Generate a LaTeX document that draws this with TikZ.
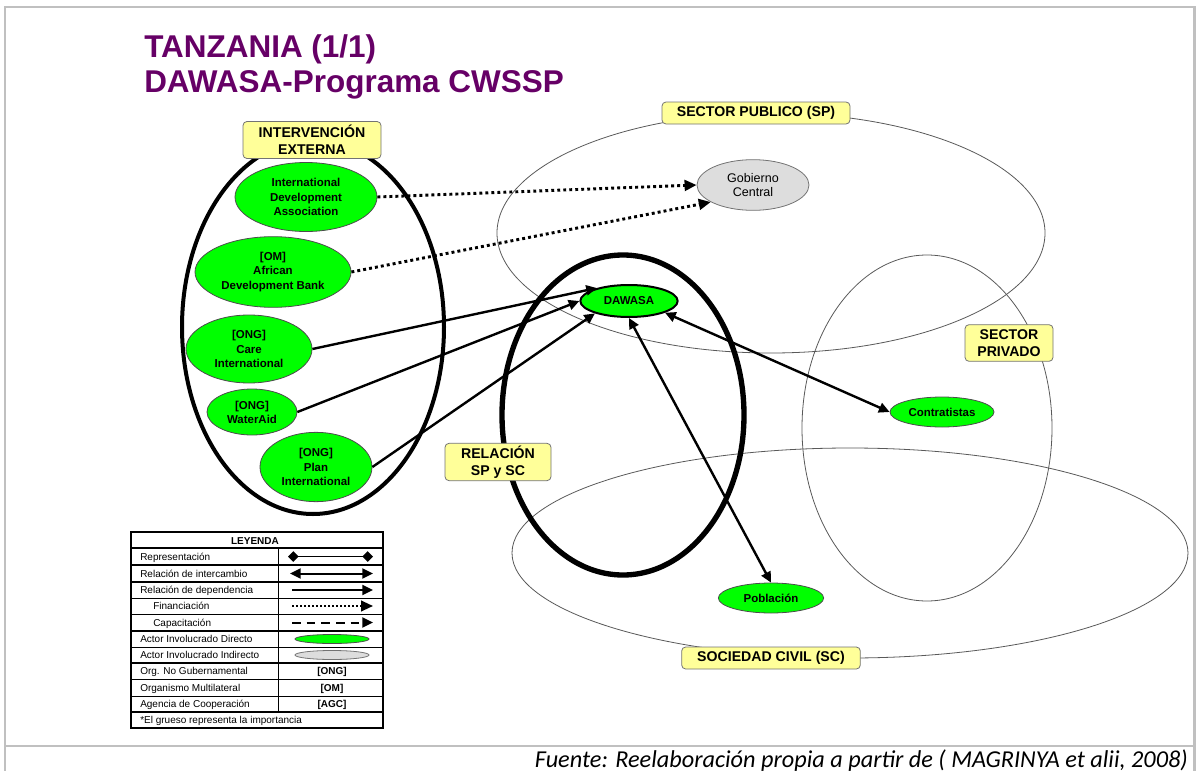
\documentclass[tikz,border=0pt]{standalone}
\usepackage{fontspec}
\setmainfont{Liberation Sans}
\newfontfamily\fuentefont{Carlito}
\usetikzlibrary{shapes.geometric,arrows.meta}
\definecolor{titulomorado}{HTML}{660066}
\definecolor{verdeactor}{HTML}{00FF00}
\definecolor{grisactor}{HTML}{DDDDDD}
\definecolor{amarillo}{HTML}{FFFF99}
\definecolor{grismarco}{HTML}{C0C0C0}

\begin{document}
\begin{tikzpicture}[x=0.75pt,y=-0.75pt,
  actor/.style={ellipse,draw=black!70,line width=0.6pt,fill=verdeactor,inner sep=0pt,align=center,font=\fontsize{8.6}{10.6}\selectfont\bfseries},
  indirecto/.style={actor,fill=grisactor,draw=black!55,font=\fontsize{9.4}{10.8}\selectfont},
  sector/.style={draw=black!65,line width=0.6pt},
  grupo/.style={draw=black,line width=3pt},
  rotulo/.style={rectangle,rounded corners=3pt,draw=black!55,fill=amarillo,line width=0.6pt,align=center,inner sep=0pt,font=\fontsize{10.6}{12.5}\selectfont\bfseries},
  depen/.style={-{Triangle[length=8pt,width=7.5pt]},line width=1.8pt},
  inter/.style={{Triangle[length=8pt,width=7.5pt]}-{Triangle[length=8pt,width=7.5pt]},line width=1.8pt},
  finan/.style={-{Triangle[length=9pt,width=8pt]},line width=2.2pt,dash pattern=on 2.2pt off 2.3pt},
  leyenda/.style={anchor=base west,inner sep=0pt,font=\fontsize{7.5}{9}\selectfont},
  clave/.style={anchor=base,inner sep=0pt,font=\fontsize{7.5}{9}\selectfont\bfseries},
]
\useasboundingbox (0,0) rectangle (1197,771);
\draw[grismarco,line width=2.2pt] (5,771) -- (5,7) -- (1194.5,7) -- (1194.5,771);
\draw[grismarco,line width=2.2pt] (5,746) -- (1194.5,746);

\node[anchor=base west,inner sep=0pt,text=titulomorado,font=\fontsize{23.6}{28}\selectfont\bfseries] (titulo1) at (144,57) {TANZANIA (1/1)};
\node[anchor=base west,inner sep=0pt,text=titulomorado,font=\fontsize{23.6}{28}\selectfont\bfseries] (titulo2) at (144,92) {DAWASA-Programa CWSSP};

\draw[sector] (771,233) ellipse [x radius=274,y radius=120];
\draw[sector] (850,553) ellipse [x radius=338,y radius=105];
\draw[sector] (927,428) ellipse [x radius=125,y radius=173];
\draw[grupo] (313,327) ellipse [x radius=131,y radius=187];
\draw[grupo,line width=4pt] (623,415) ellipse [x radius=121,y radius=160];

\node[rotulo,minimum width=141pt,minimum height=16.5pt] (lsp) at (756,113) {SECTOR PUBLICO (SP)};
\node[rotulo,minimum width=103.5pt,minimum height=27.8pt] (lie) at (312,140) {INTERVENCIÓN\\EXTERNA};
\node[rotulo,minimum width=66pt,minimum height=27.5pt] (lpriv) at (1009,343) {SECTOR\\PRIVADO};
\node[rotulo,minimum width=79.5pt,minimum height=28pt] (lrel) at (498,462) {RELACIÓN\\SP y SC};
\node[rotulo,minimum width=134pt,minimum height=16.5pt] (lsc) at (771,658) {SOCIEDAD CIVIL (SC)};

\node[actor,minimum width=106.5pt,minimum height=51.75pt] (ida) at (306,197) {International\\Development\\Association};
\node[actor,minimum width=117pt,minimum height=53pt] (afdb) at (273,272) {[OM]\\African\\Development Bank};
\node[actor,minimum width=94.5pt,minimum height=51pt] (care) at (249,349) {[ONG]\\Care\\International};
\node[actor,minimum width=67.5pt,minimum height=34.5pt] (wateraid) at (252,412) {[ONG]\\WaterAid};
\node[actor,minimum width=84pt,minimum height=52pt] (plan) at (316,467) {[ONG]\\Plan\\International};
\node[actor,draw=black,line width=1.5pt,minimum width=73pt,minimum height=24pt] (dawasa) at (629,301) {DAWASA};
\node[indirecto,minimum width=84pt,minimum height=38pt] (gobierno) at (753,185) {Gobierno\\Central};
\node[actor,minimum width=78pt,minimum height=22.5pt] (contratistas) at (942,412) {Contratistas};
\node[actor,minimum width=79pt,minimum height=22.5pt] (poblacion) at (771,598) {Población};

\draw[finan] (ida.east) -- (gobierno.west);
\draw[finan] (afdb.east) -- (gobierno.202);
\draw[depen] (care.east) -- (dawasa.158);
\draw[depen] (wateraid.east) -- (dawasa.west);
\draw[depen] (plan.east) -- (dawasa.200);
\draw[inter] (dawasa.342) -- (contratistas.west);
\draw[inter] (dawasa.south) -- (poblacion.north);

\draw[line width=1.5pt] (131,548) -- (383,548);
\draw[line width=1.5pt] (131,565) -- (383,565);
\draw[line width=1.5pt] (131,582) -- (383,582);
\draw[line width=0.6pt] (131,598) -- (383,598);
\draw[line width=0.6pt] (131,614) -- (383,614);
\draw[line width=1.5pt] (131,631) -- (383,631);
\draw[line width=0.6pt] (131,647) -- (383,647);
\draw[line width=1.5pt] (131,663) -- (383,663);
\draw[line width=0.6pt] (131,679) -- (383,679);
\draw[line width=0.6pt] (131,696) -- (383,696);
\draw[line width=1.5pt] (131,712) -- (383,712);
\draw[line width=0.6pt] (278,548) -- (278,712);
\draw[line width=2pt] (131,532) rectangle (383,728);

\node[clave] (lg0) at (255,544) {LEYENDA};
\node[leyenda] (lg1) at (140,560) {Representación};
\node[leyenda] (lg2) at (140,577) {Relación de intercambio};
\node[leyenda] (lg3) at (140,593.5) {Relación de dependencia};
\node[leyenda] (lg4) at (153,609.5) {Financiación};
\node[leyenda] (lg5) at (153,626) {Capacitación};
\node[leyenda] (lg6) at (140,642.5) {Actor Involucrado Directo};
\node[leyenda] (lg7) at (140,658.5) {Actor Involucrado Indirecto};
\node[leyenda] (lg8) at (140,674.5) {Org. No Gubernamental};
\node[leyenda] (lg9) at (140,691) {Organismo Multilateral};
\node[leyenda] (lg10) at (140,707.5) {Agencia de Cooperación};
\node[leyenda] (lg11) at (140,723.5) {*El grueso representa la importancia};

\draw[line width=1.1pt,{Diamond[length=8pt,width=8pt]}-{Diamond[length=8pt,width=8pt]}] (288,556.5) -- (373,556.5);
\draw[inter,line width=1.5pt] (290,573.5) -- (373,573.5);
\draw[depen,line width=1.5pt] (292,590) -- (373,590);
\draw[finan,line width=1.5pt,dash pattern=on 1.5pt off 1.5pt] (292,606) -- (373,606);
\draw[depen,line width=1.5pt,dash pattern=on 6.5pt off 4.5pt] (292,622.5) -- (373,622.5);
\draw[draw=black!70,fill=verdeactor,line width=0.6pt] (332,639) ellipse [x radius=37,y radius=4.5];
\draw[draw=black!55,fill=grisactor,line width=0.6pt] (332,655) ellipse [x radius=37,y radius=4.5];
\node[clave] (ong) at (332,674.5) {[ONG]};
\node[clave] (om) at (332,691) {[OM]};
\node[clave] (agc) at (332,707.5) {[AGC]};

\node[anchor=base east,inner sep=0pt,font=\fuentefont\itshape\fontsize{18.2}{21}\selectfont] (fuente) at (1188,767) {Fuente: Reelaboración propia a partir de ( MAGRINYA et alii, 2008)};
\end{tikzpicture}
\end{document}
